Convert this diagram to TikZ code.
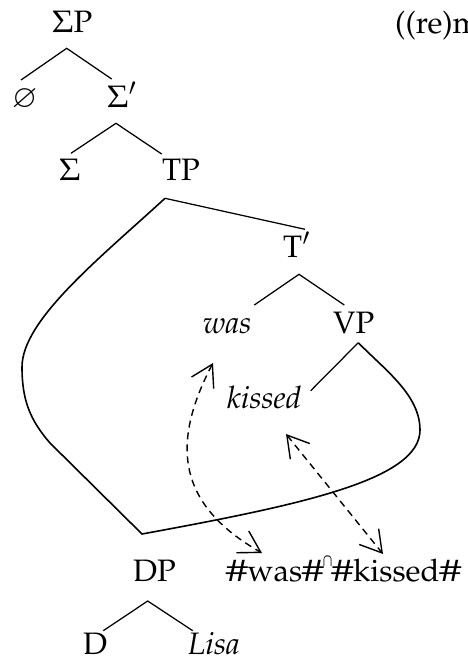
\documentclass[tikz,border=0pt]{standalone}
\usepackage[T1]{fontenc}
\usepackage{mathpazo}
\usepackage{amssymb}
\usepackage{graphicx}
\usetikzlibrary{arrows.meta}
\newcommand{\hsh}{\makebox[21.5pt][c]{\scalebox{1.45}[1]{\#}}}
\newcommand{\concat}{\makebox[8pt][c]{\raisebox{15pt}{\scalebox{0.7}[1]{\fontsize{17}{17}\selectfont\boldmath$\cap$}}}}
\begin{document}
\begin{tikzpicture}[x=1pt,y=-1pt,
  lbl/.style={inner sep=0pt, anchor=base west, font=\fontsize{31}{36}\selectfont},
  branch/.style={line width=1.25pt},
  loopline/.style={line width=1.6pt, line join=miter},
  mvarrow/.style={line width=1.4pt, dash pattern=on 7pt off 5pt,
    {Straight Barb[length=21pt,width=25pt]}-{Straight Barb[length=21pt,width=25pt]}}]
\useasboundingbox (0,0) rectangle (468,659);
% labels
\node[lbl] (SP) at (52,32) {$\Sigma$P};
\node[lbl] (RM) at (395,33) {((re)m};
\node[lbl] (E) at (12,107) {$\varnothing$};
\node[lbl] (Sbar) at (107,107) {$\Sigma'$};
\node[lbl] (S) at (59,180) {$\Sigma$};
\node[lbl] (TP) at (162,180) {TP};
\node[lbl] (Tbar) at (283,257) {T$'$};
\node[lbl] (was) at (203,333) {\textit{was}};
\node[lbl] (VP) at (333,333) {VP};
\node[lbl] (kissed) at (227,408) {\textit{kissed}};
\node[lbl] (DP) at (133,581) {DP};
\node[lbl] (PF) at (226,581) {\hsh was\hsh\concat\hsh kissed\hsh};
\node[lbl] (D) at (83,654) {D};
\node[lbl] (Lisa) at (188,654) {\textit{Lisa}};
% branch points
\coordinate (SP-b) at (66.7,48.3);
\coordinate (E-t) at (21,80);
\coordinate (Sbar-t) at (111.7,79);
\coordinate (Sbar-b) at (116,123.3);
\coordinate (S-t) at (71,153.3);
\coordinate (TP-t) at (161.7,154);
\coordinate (TP-b) at (165,198.3);
\coordinate (Tbar-t) at (305,229.3);
\coordinate (Tbar-b) at (299,274.3);
\coordinate (was-t) at (254.3,305);
\coordinate (VP-t) at (344.3,305);
\coordinate (VP-b) at (358.3,342.7);
\coordinate (kissed-t) at (310.7,390.7);
\coordinate (DP-b) at (147.7,601);
\coordinate (D-t) at (103.3,630.7);
\coordinate (Lisa-t) at (192.7,630.7);
\coordinate (was-m) at (213,363);
\coordinate (wasPF) at (262,553);
\coordinate (kissed-m) at (286,434);
\coordinate (kissedPF) at (383,554);
% tree
\draw[branch] (E-t) -- (SP-b) -- (Sbar-t);
\draw[branch] (S-t) -- (Sbar-b) -- (TP-t);
\draw[branch] (TP-b) -- (Tbar-t);
\draw[branch] (was-t) -- (Tbar-b) -- (VP-t);
\draw[branch] (VP-b) -- (kissed-t);
\draw[branch] (D-t) -- (DP-b) -- (Lisa-t);
% multidominance loop
\draw[loopline] (TP-b) .. controls (100,258) and (22,320) .. (22,367)
  .. controls (22,400) and (30,420) .. (50,443) -- (142,534)
  .. controls (300,505) and (420,480) .. (420,430)
  .. controls (420,395) and (385,370) .. (VP-b);
% dashed arrows
\draw[mvarrow] (was-m) .. controls (170,445) and (178,505) .. (wasPF);
\draw[mvarrow] (kissed-m) -- (kissedPF);
\end{tikzpicture}
\end{document}
